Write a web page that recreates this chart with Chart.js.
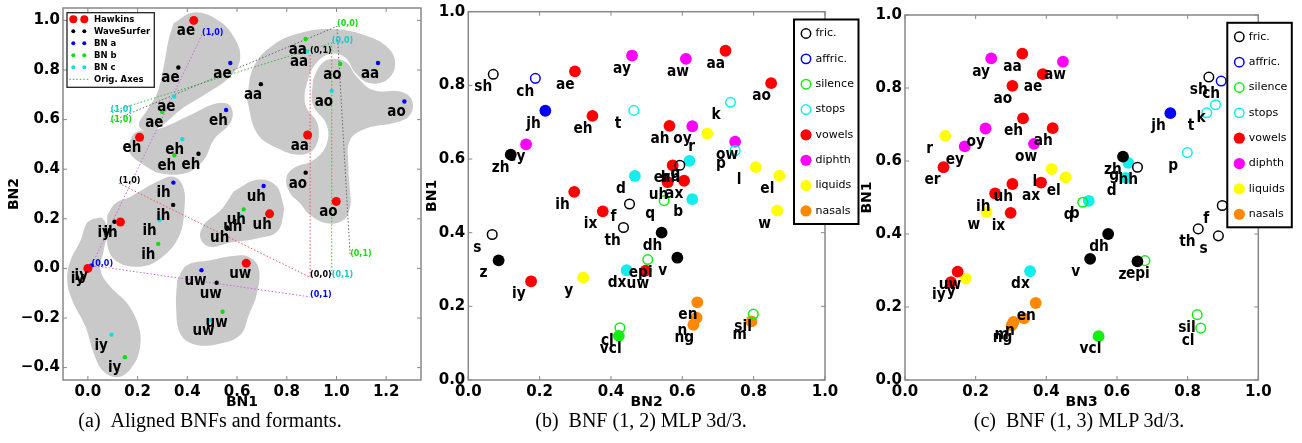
<!DOCTYPE html>
<html>
<head>
<meta charset="utf-8">
<script src="https://cdn.jsdelivr.net/npm/chart.js"></script>
<style>
  body { margin: 0; background: #fff; }
  #wrap { position: relative; width: 1302px; height: 443px; overflow: hidden; background: #fff; }
  canvas { position: absolute; top: 0; }
  .cap { position: absolute; top: 410px; font: 20px/20px "Liberation Serif", serif; white-space: nowrap; transform: translateX(-50%); color: #000; }
</style>
</head>
<body>
<div id="wrap">
  <canvas id="chartA" width="440" height="415" style="left:0px"></canvas>
  <canvas id="chartB" width="445" height="415" style="left:418px"></canvas>
  <canvas id="chartC" width="449" height="415" style="left:853px"></canvas>
  <div class="cap" style="left:210px">(a)&ensp;Aligned BNFs and formants.</div>
  <div class="cap" style="left:641px">(b)&ensp;BNF (1, 2) MLP 3d/3.</div>
  <div class="cap" style="left:1079px">(c)&ensp;BNF (1, 3) MLP 3d/3.</div>
</div>
<script>
// ---------- panel (a): aligned BNFs and formants ----------
const phonesA = ['ae', 'eh', 'aa', 'ao', 'ih', 'uh', 'uw', 'iy'];
const hawkinsX = [0.426, 0.208, 0.884, 0.999, 0.131, 0.731, 0.637, 0.000];
const hawkinsY = [1.000, 0.529, 0.538, 0.270, 0.187, 0.220, 0.021, 0.000];
const waveX = [0.364, 0.445, 0.696, 0.876, 0.343, 0.560, 0.518, 0.107];
const waveY = [0.810, 0.462, 0.743, 0.386, 0.256, 0.165, -0.058, 0.188];
const bnaX = [0.573, 0.556, 1.167, 1.273, 0.344, 0.707, 0.457, 0.015];
const bnaY = [0.828, 0.639, 0.828, 0.673, 0.346, 0.332, -0.007, 0.012];
const bnbX = [0.299, 0.348, 0.876, 1.015, 0.283, 0.627, 0.542, 0.149];
const bnbY = [0.631, 0.456, 0.925, 0.824, 0.099, 0.238, -0.175, -0.358];
const bncX = [0.347, 0.380, 0.881, 0.981, 0.288, 0.613, 0.489, 0.095];
const bncY = [0.693, 0.521, 0.875, 0.716, 0.195, 0.211, -0.209, -0.267];

// original axes: (1,0) -> (0,0) -> (0,1)
const axTags = ['(1,0)', '(0,0)', '(0,1)'];
const bnaAxX = [0.459, 0.015, 0.894];
const bnaAxY = [0.942, 0.012, -0.115];
const wsAxX = [0.125, 0.894, 0.894];
const wsAxY = [0.343, -0.036, 0.868];
const bnbAxX = [0.091, 1.002, 1.055];
const bnbAxY = [0.592, 0.976, 0.050];
const bncAxX = [0.091, 0.981, 0.981];
const bncAxY = [0.632, 0.909, -0.034];

// vowel regions (grey areas), data units
const blobAe = [[0.345,0.989],[0.426,1.032],[0.520,1.003],[0.586,0.935],[0.613,0.848],[0.573,0.774],[0.480,0.707],[0.372,0.639],[0.292,0.572],[0.239,0.552],[0.205,0.579],[0.239,0.639],[0.279,0.707],[0.305,0.814],[0.325,0.922]];
const blobEh = [[0.165,0.505],[0.192,0.548],[0.292,0.565],[0.412,0.619],[0.520,0.666],[0.573,0.655],[0.576,0.592],[0.506,0.518],[0.466,0.437],[0.399,0.386],[0.292,0.384],[0.225,0.417],[0.171,0.462]];
const blobAa = [[0.640,0.680],[0.667,0.814],[0.747,0.902],[0.854,0.949],[0.975,0.965],[1.108,0.942],[1.209,0.888],[1.236,0.821],[1.202,0.760],[1.130,0.748],[1.075,0.790],[1.035,0.850],[0.980,0.866],[0.925,0.835],[0.885,0.760],[0.875,0.660],[0.925,0.580],[0.915,0.490],[0.854,0.458],[0.761,0.485],[0.680,0.545]];
const blobAo = [[0.905,0.760],[0.940,0.825],[0.985,0.845],[1.040,0.830],[1.080,0.775],[1.149,0.718],[1.256,0.713],[1.303,0.680],[1.296,0.619],[1.229,0.586],[1.122,0.565],[1.055,0.518],[1.048,0.410],[1.055,0.303],[1.055,0.249],[1.028,0.195],[0.961,0.182],[0.894,0.215],[0.854,0.262],[0.814,0.303],[0.798,0.363],[0.827,0.404],[0.908,0.437],[0.960,0.500],[0.960,0.580],[0.905,0.660]];
const blobIh = [[0.078,0.215],[0.111,0.263],[0.172,0.289],[0.279,0.350],[0.345,0.370],[0.383,0.330],[0.388,0.235],[0.366,0.128],[0.292,0.040],[0.212,0.007],[0.118,0.027],[0.080,0.087]];
const blobUh = [[0.586,0.310],[0.680,0.357],[0.754,0.336],[0.785,0.262],[0.787,0.222],[0.761,0.148],[0.680,0.121],[0.573,0.104],[0.493,0.087],[0.453,0.121],[0.466,0.175],[0.520,0.222],[0.546,0.249]];
const blobUw = [[0.359,-0.047],[0.399,0.013],[0.493,0.033],[0.586,0.050],[0.647,0.046],[0.687,0.000],[0.680,-0.101],[0.647,-0.189],[0.613,-0.269],[0.520,-0.306],[0.426,-0.306],[0.372,-0.264],[0.355,-0.157]];
const blobIy = [[0.018,0.198],[0.058,0.202],[0.078,0.155],[0.064,0.074],[0.051,-0.007],[0.091,-0.074],[0.158,-0.141],[0.205,-0.236],[0.209,-0.323],[0.178,-0.397],[0.125,-0.438],[0.064,-0.417],[0.024,-0.343],[-0.009,-0.236],[-0.063,-0.128],[-0.083,-0.047],[-0.069,0.034],[-0.029,0.114],[-0.005,0.182]];

const ticksAx = [0, 0.2, 0.4, 0.6, 0.8, 1.0, 1.2];
const ticksAy = [-0.4, -0.2, 0, 0.2, 0.4, 0.6, 0.8, 1.0];

// ---------- panels (b) and (c): BNF MLP 3d/3 ----------
const phones = ['sh','ch','jh','ae','ay','aw','aa','ao','k','t','eh','ah','oy','r','ow','p','ey','zh','l','el',
  'hh','g','er','d','uh','ax','ih','b','q','f','ix','w','th','dh','s','z','v','epi','dx','uw','iy','y',
  'en','n','m','ng','sil','cl','vcl'];
const bn1 = [0.830,0.819,0.731,0.838,0.881,0.872,0.894,0.806,0.754,0.732,0.717,0.690,0.689,0.669,0.647,0.623,0.640,0.612,0.578,0.555,
  0.583,0.595,0.583,0.554,0.537,0.541,0.511,0.491,0.487,0.478,0.458,0.460,0.414,0.400,0.395,0.325,0.332,0.327,0.298,0.297,0.268,0.278,
  0.211,0.169,0.159,0.150,0.179,0.142,0.120];
const bn2 = [0.070,0.188,0.216,0.299,0.459,0.610,0.721,0.849,0.735,0.464,0.348,0.564,0.628,0.670,0.748,0.748,0.162,0.119,0.806,0.872,
  0.593,0.620,0.573,0.467,0.559,0.605,0.297,0.628,0.549,0.452,0.377,0.866,0.435,0.542,0.067,0.085,0.586,0.503,0.444,0.497,0.176,0.322,
  0.642,0.640,0.794,0.631,0.799,0.425,0.422];
const bn3 = [0.860,0.895,0.751,0.390,0.244,0.447,0.332,0.304,0.879,0.854,0.334,0.418,0.228,0.114,0.365,0.799,0.169,0.617,0.415,0.455,
  0.658,0.632,0.109,0.625,0.304,0.385,0.255,0.520,0.503,0.898,0.299,0.231,0.830,0.575,0.887,0.658,0.524,0.679,0.354,0.149,0.130,0.172,
  0.370,0.337,0.307,0.302,0.827,0.837,0.548];
// 0 fric, 1 affric, 2 silence, 3 stops, 4 vowels, 5 diphth, 6 liquids, 7 nasals
const phoneClass = [0,1,1,4,5,5,4,4,3,3,4,4,5,6,5,3,5,0,6,6,
  0,3,4,3,4,4,4,3,2,0,4,6,0,0,0,0,0,2,3,4,4,6,
  7,7,7,7,2,2,2];
// 1 = drawn as an open circle
const phoneOpen = [1,1,0,0,0,0,0,0,1,1,0,0,0,0,0,1,0,0,0,0,
  1,0,0,0,0,0,0,0,1,1,0,0,1,0,1,0,0,1,0,0,0,0,
  0,0,0,0,1,1,0];
const classNames = ['fric.', 'affric.', 'silence', 'stops', 'vowels', 'diphth', 'liquids', 'nasals'];
const classColors = ['#000000', '#0000ff', '#11ee11', '#11eeee', '#ff0000', '#ff00ff', '#ffff00', '#ff8800'];
const ticks01 = [0, 0.2, 0.4, 0.6, 0.8, 1.0];

const FONT = '"DejaVu Sans", sans-serif';
const fmt = v => (v < 0 ? '\u2212' : '') + Math.abs(v).toFixed(1);

function axis(min, max, ticks, title, size) {
  return {
    type: 'linear', min: min, max: max,
    afterBuildTicks: s => { s.ticks = ticks.map(v => ({ value: v })); },
    afterFit: s => {
      if (s.isHorizontal()) s.height = size; else s.width = size;
      s.paddingTop = 0; s.paddingBottom = 0; s.paddingLeft = 0; s.paddingRight = 0;
    },
    grid: { display: false, drawTicks: false },
    border: { display: false },
    ticks: {
      color: '#000', padding: 3, autoSkip: false, maxRotation: 0,
      font: { family: FONT, weight: 'bold', size: 15 },
      callback: v => fmt(v)
    },
    title: {
      display: true, text: title, color: '#000',
      padding: { top: 6, bottom: 4 },
      font: { family: FONT, weight: 'bold', size: 14 }
    }
  };
}

// grey frame with small inward ticks on all four sides
const framePlugin = {
  id: 'frame',
  beforeDatasetsDraw(chart) {
    const { ctx, chartArea: a, scales } = chart;
    ctx.save();
    ctx.strokeStyle = '#888';
    ctx.lineWidth = 1;
    ctx.beginPath();
    scales.x.ticks.forEach(t => {
      const px = scales.x.getPixelForValue(t.value);
      ctx.moveTo(px, a.bottom); ctx.lineTo(px, a.bottom - 4);
      ctx.moveTo(px, a.top); ctx.lineTo(px, a.top + 4);
    });
    scales.y.ticks.forEach(t => {
      const py = scales.y.getPixelForValue(t.value);
      ctx.moveTo(a.left, py); ctx.lineTo(a.left + 4, py);
      ctx.moveTo(a.right, py); ctx.lineTo(a.right - 4, py);
    });
    ctx.stroke();
    ctx.lineWidth = 1.5;
    ctx.strokeRect(a.left, a.top, a.right - a.left, a.bottom - a.top);
    ctx.restore();
  }
};

// text tags next to the points of datasets that carry a `tags` list
const tagPlugin = {
  id: 'tags',
  afterDatasetsDraw(chart) {
    const ctx = chart.ctx;
    chart.data.datasets.forEach((ds, i) => {
      if (!ds.tags) return;
      const meta = chart.getDatasetMeta(i);
      ctx.save();
      ctx.font = ds.tagFont;
      ctx.fillStyle = ds.tagColor || '#000';
      ctx.textAlign = 'left';
      ctx.textBaseline = 'middle';
      meta.data.forEach((el, j) => {
        ctx.save();
        ctx.translate(el.x + ds.tagDx, el.y + ds.tagDy);
        ctx.scale(ds.tagSx || 1, 1);
        ctx.fillText(ds.tags[j], 0, 0);
        ctx.restore();
      });
      ctx.restore();
    });
  }
};

function makeLegend(cfg) {
  return {
    id: 'boxLegend',
    afterDraw(chart) {
      const { ctx, chartArea: a } = chart;
      const left = cfg.fromRight ? a.right - cfg.dx : a.left + cfg.dx;
      const top = a.top + cfg.dy;
      ctx.save();
      ctx.fillStyle = '#fff';
      ctx.fillRect(left, top, cfg.w, cfg.h);
      ctx.lineWidth = cfg.lineWidth;
      ctx.strokeStyle = cfg.border;
      ctx.strokeRect(left, top, cfg.w, cfg.h);
      ctx.font = cfg.font;
      ctx.textAlign = 'left';
      ctx.textBaseline = 'middle';
      cfg.items.forEach((it, i) => {
        const y = top + cfg.row0 + i * cfg.rowH;
        if (it.dash) {
          ctx.strokeStyle = it.color;
          ctx.lineWidth = 1;
          ctx.setLineDash([1.5, 2]);
          ctx.beginPath();
          ctx.moveTo(left + cfg.marks[0] - 4, y);
          ctx.lineTo(left + cfg.marks[cfg.marks.length - 1] + 4, y);
          ctx.stroke();
          ctx.setLineDash([]);
        } else {
          cfg.marks.forEach(mx => {
            ctx.beginPath();
            ctx.arc(left + mx, y, it.r, 0, Math.PI * 2);
            if (it.open) {
              ctx.lineWidth = 1.5; ctx.strokeStyle = it.color; ctx.stroke();
            } else {
              ctx.fillStyle = it.color; ctx.fill();
            }
          });
        }
        ctx.fillStyle = '#000';
        ctx.fillText(it.text, left + cfg.textX, y);
      });
      ctx.restore();
    }
  };
}

const pts = (xs, ys) => xs.map((x, i) => ({ x: x, y: ys[i] }));
const ring = p => p.concat([p[0]]).map(q => ({ x: q[0], y: q[1] }));

// ----- chart (a) -----
const seriesA = [
  { xs: hawkinsX, ys: hawkinsY, color: '#ff0000', r: 4.5 },
  { xs: waveX, ys: waveY, color: '#000000', r: 2.2 },
  { xs: bnaX, ys: bnaY, color: '#0000ff', r: 2.2 },
  { xs: bnbX, ys: bnbY, color: '#11dd11', r: 2.2 },
  { xs: bncX, ys: bncY, color: '#11dddd', r: 2.2 }
];
const axesA = [
  { xs: bnaAxX, ys: bnaAxY, line: '#cc66dd', tag: '#0000ff' },
  { xs: wsAxX, ys: wsAxY, line: '#ee5555', tag: '#000000' },
  { xs: bnbAxX, ys: bnbAxY, line: '#666666', tag: '#11dd11' },
  { xs: bncAxX, ys: bncAxY, line: '#33bb33', tag: '#11cccc' }
];
const blobs = [blobAe, blobEh, blobAa, blobAo, blobIh, blobUh, blobUw, blobIy];

const dsA = [];
seriesA.forEach(s => dsA.push({
  data: pts(s.xs, s.ys), order: 0,
  pointRadius: s.r, pointBackgroundColor: s.color, pointBorderWidth: 0,
  tags: phonesA, tagFont: 'bold 15px ' + FONT, tagDx: -17, tagDy: 11, tagSx: 0.9
}));
axesA.forEach(s => dsA.push({
  data: pts(s.xs, s.ys), order: 1, showLine: true,
  borderColor: s.line, borderWidth: 1, borderDash: [1.5, 2], pointRadius: 0, fill: false,
  tags: axTags, tagFont: 'bold 8px ' + FONT, tagColor: s.tag, tagDx: 0, tagDy: -2
}));
blobs.forEach(b => dsA.push({
  data: ring(b), order: 2, showLine: true, tension: 0.4,
  borderWidth: 0, borderColor: 'rgba(0,0,0,0)', backgroundColor: '#c9c9c9',
  fill: 'shape', pointRadius: 0
}));

const legendA = makeLegend({
  fromRight: false, dx: 4, dy: 4.7, w: 87.3, h: 74.6,
  lineWidth: 1.3, border: '#222', font: 'bold 8.5px ' + FONT,
  row0: 6.6, rowH: 12, marks: [6.3, 17.3], textX: 27,
  items: [
    { text: 'Hawkins', color: '#ff0000', r: 4 },
    { text: 'WaveSurfer', color: '#000000', r: 2 },
    { text: 'BN a', color: '#0000ff', r: 2 },
    { text: 'BN b', color: '#11dd11', r: 2 },
    { text: 'BN c', color: '#11dddd', r: 2 },
    { text: 'Orig. Axes', color: '#44aa44', dash: true }
  ]
});

new Chart(document.getElementById('chartA'), {
  type: 'scatter',
  data: { datasets: dsA },
  options: {
    responsive: false, animation: false, events: [],
    layout: { padding: { left: 0, top: 8, right: 19, bottom: 0 } },
    scales: {
      x: axis(-0.1, 1.34, ticksAx, 'BN1', 35),
      y: axis(-0.45, 1.05, ticksAy, 'BN2', 63)
    },
    plugins: { legend: { display: false }, tooltip: { enabled: false } }
  },
  plugins: [framePlugin, tagPlugin, legendA]
});

// ----- charts (b) and (c) -----
function phoneDatasets(xs) {
  const out = [];
  classNames.forEach((name, c) => {
    [0, 1].forEach(open => {
      const idx = phones.map((p, i) => i).filter(i => phoneClass[i] === c && phoneOpen[i] === open);
      if (!idx.length) return;
      out.push({
        data: idx.map(i => ({ x: xs[i], y: bn1[i] })),
        tags: idx.map(i => phones[i]),
        tagFont: 'bold 16px ' + FONT, tagDx: -19, tagDy: 13, tagSx: 0.86,
        pointRadius: open ? 4.8 : 5.9,
        pointBorderWidth: open ? 1.5 : 0,
        pointBackgroundColor: open ? 'rgba(0,0,0,0)' : classColors[c],
        pointBorderColor: classColors[c]
      });
    });
  });
  return out;
}

function classLegend() {
  return makeLegend({
    fromRight: true, dx: 31, dy: 7.8, w: 64.5, h: 204.5,
    lineWidth: 2, border: '#000', font: '11px ' + FONT,
    row0: 14, rowH: 25.35, marks: [12], textX: 21.5,
    items: classNames.map((n, c) => ({ text: n, color: classColors[c], open: c < 4, r: c < 4 ? 4.7 : 5.6 }))
  });
}

function phoneChart(id, xs, xTitle, top, right, yWidth) {
  new Chart(document.getElementById(id), {
    type: 'scatter',
    data: { datasets: phoneDatasets(xs) },
    options: {
      responsive: false, animation: false, events: [],
      layout: { padding: { left: 0, top: top, right: right, bottom: 0 } },
      scales: {
        x: axis(0, 1, ticks01, xTitle, 35),
        y: axis(0, 1, ticks01, 'BN1', yWidth)
      },
      plugins: { legend: { display: false }, tooltip: { enabled: false } }
    },
    plugins: [framePlugin, tagPlugin, classLegend()]
  });
}

phoneChart('chartB', bn2, 'BN2', 11.7, 38, 50.3);
phoneChart('chartC', bn3, 'BN3', 15, 43.7, 52);
</script>
</body>
</html>
